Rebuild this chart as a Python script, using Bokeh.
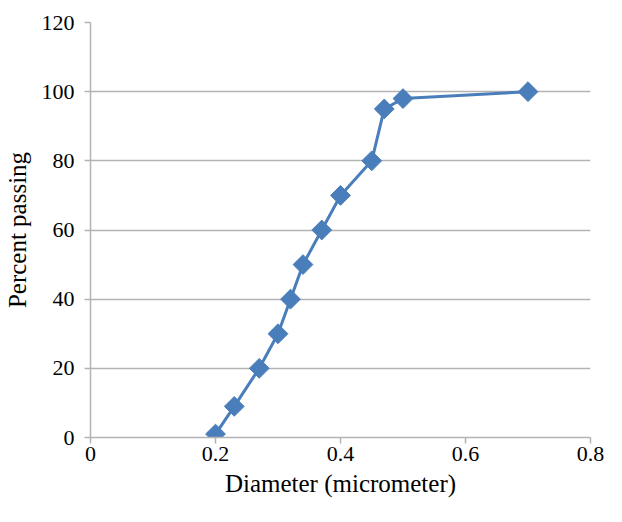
import math
from bokeh.plotting import figure
from bokeh.models import Range1d, FixedTicker
from bokeh.embed import file_html
from bokeh.resources import INLINE

diameter = [0.20, 0.23, 0.27, 0.30, 0.32, 0.34, 0.37, 0.40, 0.45, 0.47, 0.50, 0.70]
passing = [1, 9, 20, 30, 40, 50, 60, 70, 80, 95, 98, 100]
x_ticks = [0, 0.2, 0.4, 0.6, 0.8]
y_ticks = [0, 20, 40, 60, 80, 100, 120]

p = figure(width=606, height=506, output_backend="svg", toolbar_location=None,
           x_range=Range1d(0, 0.8), y_range=Range1d(0, 120),
           min_border_left=90, min_border_right=16, min_border_top=22, min_border_bottom=69)
p.outline_line_color = None
p.background_fill_color = "white"

p.line(diameter, passing, line_color="#4a7ebb", line_width=3)
p.scatter(diameter, passing, marker="square", angle=math.pi / 4, size=14,
          fill_color="#4a7ebb", line_color="#4a7ebb", line_width=1)

font = "Liberation Serif"
for ax in (p.xaxis, p.yaxis):
    ax.axis_line_color = "#b3b3b3"
    ax.axis_line_width = 1.5
    ax.major_tick_line_color = "#b3b3b3"
    ax.major_tick_line_width = 1.5
    ax.major_tick_out = 6
    ax.major_tick_in = 0
    ax.minor_tick_line_color = None
    ax.major_label_text_font = font
    ax.major_label_text_font_size = "22px"
    ax.major_label_text_color = "#000000"
    ax.axis_label_text_font = font
    ax.axis_label_text_font_size = "25px"
    ax.axis_label_text_font_style = "normal"
    ax.axis_label_text_color = "#000000"

p.xaxis.ticker = FixedTicker(ticks=x_ticks)
p.yaxis.ticker = FixedTicker(ticks=y_ticks)
p.xaxis.axis_label = "Diameter (micrometer)"
p.yaxis.axis_label = "Percent passing"
p.xaxis.major_label_standoff = 3
p.yaxis.major_label_standoff = 10
p.xaxis.axis_label_standoff = 6
p.yaxis.axis_label_standoff = 8

p.xgrid.grid_line_color = None
p.ygrid.grid_line_color = "#b3b3b3"
p.ygrid.grid_line_width = 1.5

open("out.html", "w").write(file_html(p, INLINE))
